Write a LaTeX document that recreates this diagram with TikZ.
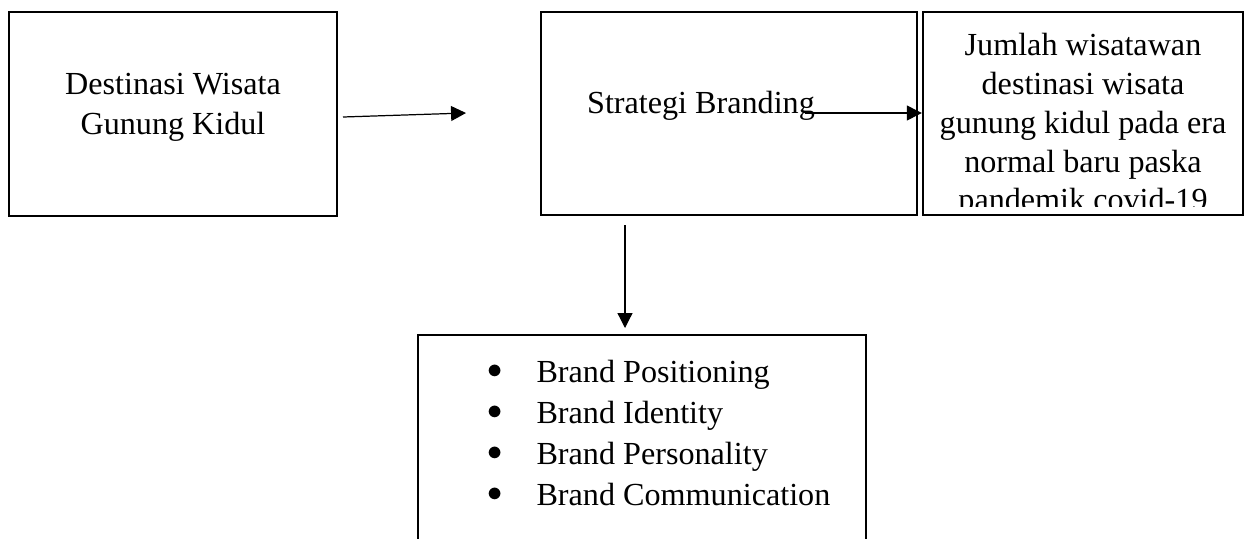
\documentclass[tikz,border=0pt]{standalone}
\usepackage{fontspec}
\setmainfont{Liberation Serif}
\usepackage{tikz}
\usetikzlibrary{arrows.meta}

\begin{document}
\begin{tikzpicture}[x=0.02cm, y=-0.02cm]
  \tikzset{box/.style={draw, line width=1.4pt, inner sep=0pt},
           txt/.style={font=\fontsize{18.3}{22.7}\selectfont, align=center, inner sep=0pt},
           arr/.style={-{Triangle[length=8.5pt, width=8.5pt]}, line width=0.7pt}}
  \newcommand{\listdot}{\raisebox{0.12em}{$\bullet$}}
  \useasboundingbox (0,0) rectangle (1245,538);

  % Destinasi
  \node[box, minimum width=6.56cm, minimum height=4.08cm] (destinasi) at (173,114) {};
  \node[txt] (destinasi-txt) at (173,107.5) {Destinasi Wisata\\Gunung Kidul};

  % Strategi
  \node[box, minimum width=7.52cm, minimum height=4.06cm] (strategi) at (729,113.5) {};
  \node[font=\fontsize{18.3}{22.7}\selectfont, inner sep=0pt, anchor=base] (strategi-txt) at (701,113) {Strategi Branding};

  % Jumlah wisatawan (text runs past the bottom edge)
  \node[box, minimum width=6.4cm, minimum height=4.06cm] (jumlah) at (1083,113.5) {};
  \begin{scope}
    \clip (925,14) rectangle (1241,206);
    \node[txt, font=\fontsize{18.3}{22.1}\selectfont] (jumlah-txt) at (1083,125.5) {Jumlah wisatawan\\destinasi wisata\\gunung kidul pada era\\normal baru paska\\pandemik covid-19};
  \end{scope}

  % Brand list (box open at the bottom)
  \node[box, minimum width=8.96cm, minimum height=4.6cm] (brand) at (642,450) {};
  \node[txt, font=\fontsize{18.3}{23.3}\selectfont, anchor=west] (brand-txt) at (487,435.5) {%
    \begin{tabular}{@{}l@{\hspace{0.68cm}}l@{}}
      \listdot & Brand Positioning\\
      \listdot & Brand Identity\\
      \listdot & Brand Personality\\
      \listdot & Brand Communication
    \end{tabular}};

  % arrows
  \coordinate (a1s) at (343,117); \coordinate (a1e) at (466,113);
  \coordinate (a2s) at (805,113);
  \coordinate (a3s) at (625,225); \coordinate (a3e) at (625,328);
  \draw[arr] (a1s) -- (a1e);
  \draw[arr] (a2s) -- (a2s -| jumlah.west);
  \draw[arr] (a3s) -- (a3e);
\end{tikzpicture}
\end{document}
